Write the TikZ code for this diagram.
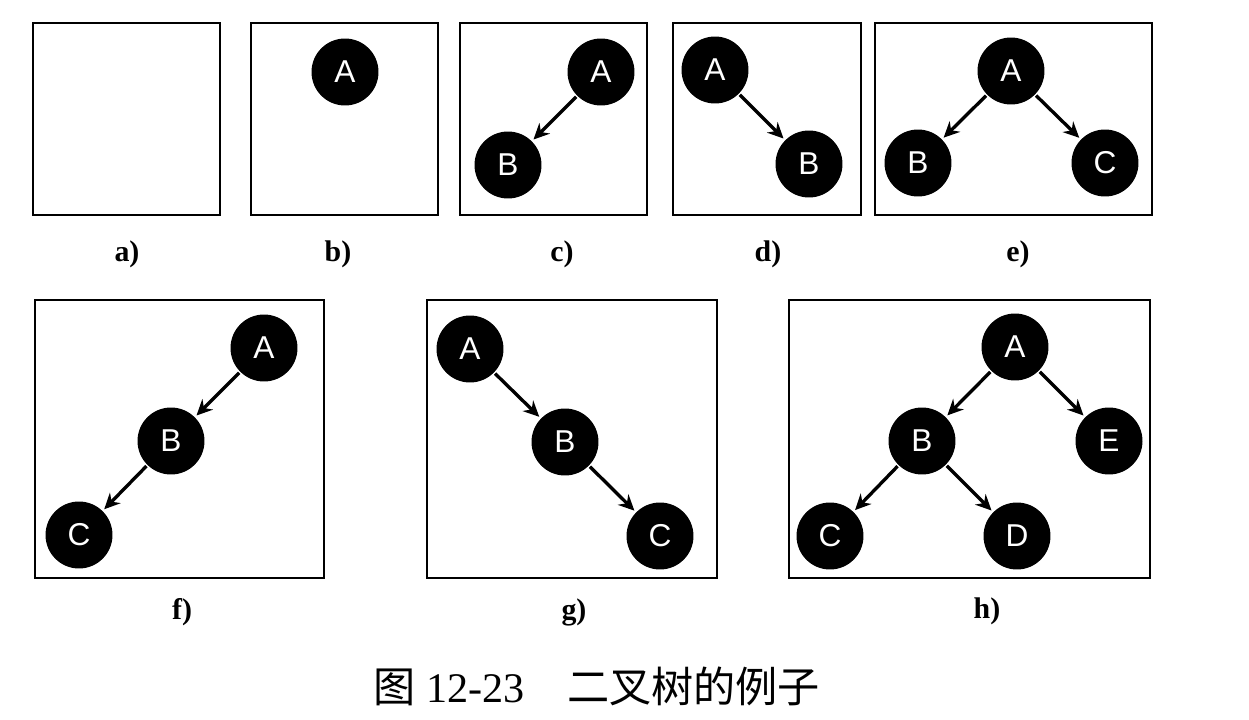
\documentclass[tikz,border=0pt]{standalone}
\usepackage{fontspec}
\setmainfont{Liberation Serif}
\setsansfont{Liberation Sans}
\newfontfamily\cjk{Noto Sans CJK SC}
\usetikzlibrary{arrows.meta}

\begin{document}
\begin{tikzpicture}[x=0.02cm,y=-0.02cm,->,>={Stealth[length=9pt,width=8.5pt,inset=3pt]},shorten >=0.5pt,
    line width=1.9pt,
    main node/.style={circle,fill=black,text=white,minimum size=1.34cm,
      inner sep=0pt,font=\sffamily\fontsize{18}{18}\selectfont},
    panel/.style={draw,-,line width=1.3pt},
    sublabel/.style={anchor=base,font=\bfseries\fontsize{17}{17}\selectfont}]

  \useasboundingbox (0,0) rectangle (1249,720);

  % Frames
  \draw[panel] (33,23) rectangle (220,215);
  \draw[panel] (251,23) rectangle (438,215);
  \draw[panel] (460,23) rectangle (647,215);
  \draw[panel] (673,23) rectangle (861,215);
  \draw[panel] (875,23) rectangle (1152,215);
  \draw[panel] (35,300) rectangle (324,578);
  \draw[panel] (427,300) rectangle (717,578);
  \draw[panel] (789,300) rectangle (1150,578);

  % Define vertices
  \node[main node] (bA) at (345,72) {A};

  \node[main node] (cA) at (601,72) {A};
  \node[main node] (cB) at (508,165) {B};

  \node[main node] (dA) at (715,70) {A};
  \node[main node] (dB) at (809,164) {B};

  \node[main node] (eA) at (1011,71) {A};
  \node[main node] (eB) at (918,163) {B};
  \node[main node] (eC) at (1105,163) {C};

  \node[main node] (fA) at (264,348) {A};
  \node[main node] (fB) at (171,441) {B};
  \node[main node] (fC) at (79,535) {C};

  \node[main node] (gA) at (470,349) {A};
  \node[main node] (gB) at (565,442) {B};
  \node[main node] (gC) at (660,536) {C};

  \node[main node] (hA) at (1015,347) {A};
  \node[main node] (hB) at (922,441) {B};
  \node[main node] (hE) at (1109,441) {E};
  \node[main node] (hC) at (830,536) {C};
  \node[main node] (hD) at (1017,536) {D};

  % Draw edges
  \path
    (cA) edge (cB)
    (dA) edge (dB)
    (eA) edge (eB)
    (eA) edge (eC)
    (fA) edge (fB)
    (fB) edge (fC)
    (gA) edge (gB)
    (gB) edge (gC)
    (hA) edge (hB)
    (hA) edge (hE)
    (hB) edge (hC)
    (hB) edge (hD);

  % Labels
  \node[sublabel] (la) at (127,261) {a)};
  \node[sublabel] (lb) at (338,261) {b)};
  \node[sublabel] (lc) at (562,261) {c)};
  \node[sublabel] (ld) at (768,261) {d)};
  \node[sublabel] (le) at (1018,261) {e)};
  \node[sublabel] (lf) at (182,619) {f)};
  \node[sublabel] (lg) at (574,619) {g)};
  \node[sublabel] (lh) at (987,618) {h)};

  \node[font=\fontsize{24}{24}\selectfont] (cap) at (597,686) {{\cjk 图} 12-23\quad{\cjk 二叉树的例子}};

\end{tikzpicture}
\end{document}
